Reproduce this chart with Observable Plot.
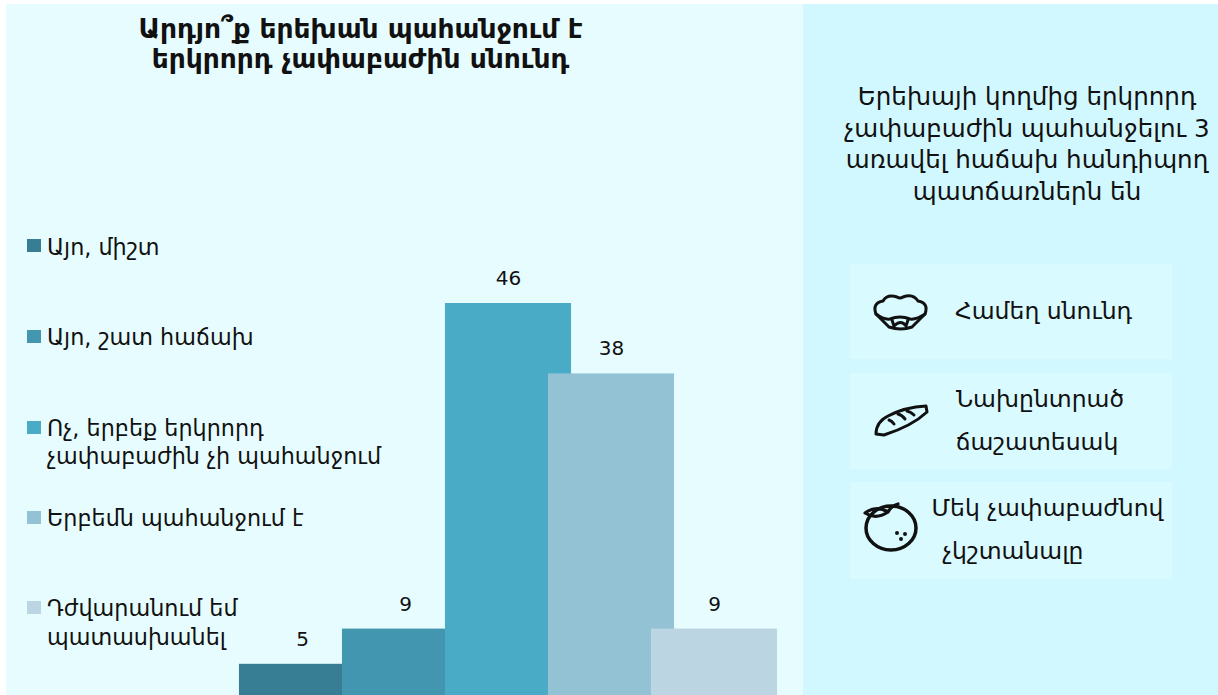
<!DOCTYPE html>
<html><head><meta charset="utf-8">
<script src="https://cdn.jsdelivr.net/npm/d3@7"></script>
<script src="https://cdn.jsdelivr.net/npm/@observablehq/plot@0.6"></script>
<style>
html,body{margin:0;padding:0;background:#fff;overflow:hidden}
#page{position:relative;width:1218px;height:695px;overflow:hidden;font-family:"DejaVu Sans",sans-serif;color:#111}
.panel{position:absolute}
.t{position:absolute;white-space:nowrap;line-height:1;transform:translateY(-50%)}
.c{transform:translate(-50%,-50%)}
#plot{position:absolute;left:0;top:0}
#plot svg{background:transparent;display:block}
</style></head><body>
<div id="page"></div>
<script>
const categories = ["Այո, միշտ","Այո, շատ հաճախ","Ոչ, երբեք երկրորդ չափաբաժին չի պահանջում","Երբեմն պահանջում է","Դժվարանում եմ պատասխանել"];
const values = [5,9,46,38,9];
const colors = ["#377e94","#4296af","#4aabc6","#92c2d4","#bbd5e2"];
const legendLines = [["Այո, միշտ"],["Այո, շատ հաճախ"],["Ոչ, երբեք երկրորդ","չափաբաժին չի պահանջում"],["Երբեմն պահանջում է"],["Դժվարանում եմ","պատասխանել"]];
const titleLines = ["Արդյո՞ք երեխան պահանջում է","երկրորդ չափաբաժին սնունդ"];
const sideLines = ["Երեխայի կողմից երկրորդ","չափաբաժին պահանջելու 3","առավել հաճախ հանդիպող","պատճառներն են"];
const reasons = [["Համեղ սնունդ"],["Նախընտրած","ճաշատեսակ"],["Մեկ չափաբաժնով","չկշտանալը"]];

const page = document.getElementById("page");
function box(x,y,w,h,bg){const d=document.createElement("div");d.className="panel";d.style.cssText=`left:${x}px;top:${y}px;width:${w}px;height:${h}px;background:${bg}`;page.appendChild(d);return d;}
function text(s,x,y,size,opts={}){const d=document.createElement("div");d.className="t"+(opts.center?" c":"");d.textContent=s;d.style.left=x+"px";d.style.top=y+"px";d.style.fontSize=size+"px";if(opts.bold)d.style.fontWeight="bold";page.appendChild(d);return d;}

box(6,4,797,691,"#e6fcff");
box(803,4,415,691,"#d2f8ff");
box(850,264,322,95,"#d9faff");
box(850,373,322,96,"#d9faff");
box(850,482,322,97,"#d9faff");

const data = categories.map((c,i)=>({i,c,v:values[i],color:colors[i]}));
const halfBar = 0.612;
const chart = Plot.plot({
  width:1218,height:695,margin:0,
  x:{type:"linear",domain:[0,4],range:[302,714],axis:null},
  y:{domain:[0,46],range:[707.8,303],axis:null},
  style:{background:"transparent"},
  marks:[
    Plot.rectY(data,{x1:d=>d.i-halfBar,x2:d=>d.i+halfBar,y1:0,y2:"v",fill:"color"}),
    Plot.text(data,{x:"i",y:"v",text:d=>String(d.v),dy:-25,fontSize:20,fill:"#111",fontFamily:"DejaVu Sans"})
  ]
});
const holder=document.createElement("div");holder.id="plot";holder.appendChild(chart);page.appendChild(holder);

titleLines.forEach((s,i)=>text(s,360.5,[29,59][i],26.5,{center:true,bold:true}));
sideLines.forEach((s,i)=>text(s,1027,[97,129,160,192][i],24.6,{center:true}));

const legendY=[245,336,427,517,607];
colors.forEach((c,i)=>{box(27,legendY[i]-6.5,14,13,c);});
const legendTextY=[[247],[337],[428,456],[518],[608,637]];
legendLines.forEach((ls,i)=>ls.forEach((s,j)=>text(s,47,legendTextY[i][j],22.3)));

const reasonPos=[[[1043.5,312]],[[1040,400],[1037,443]],[[1047.5,509],[1013,552]]];
reasons.forEach((ls,i)=>ls.forEach((s,j)=>text(s,reasonPos[i][j][0],reasonPos[i][j][1],23.5,{center:true})));

const ns="http://www.w3.org/2000/svg";
const icons=`<svg xmlns="${ns}" width="1218" height="695" style="position:absolute;left:0;top:0" fill="none" stroke="#111" stroke-width="3" stroke-linecap="round" stroke-linejoin="round">
<path d="M876 314 Q872 303 883 301 Q887 294 897 297 Q900 299 903 297 Q913 293 918 301 Q929 303 925 314 Q916 320 910 319 Q900 315 890 319 Q884 320 876 314 Z"/>
<path d="M876 314 L889 327 Q901 331 912 327 L925 314 M892 320 L894 326 M908 320 L906 326 M894 326 Q901 319 906 326"/>
<path d="M876 434 Q876 422 888 416 Q905 407 926 406 L927 412 Q912 426 884 435 Z"/>
<path d="M889 420 Q892 421 894 424 M898 414 Q902 415 905 419 M907 411 Q911 412 914 415"/>
<ellipse cx="891" cy="528" rx="25" ry="22" stroke-width="3.5"/>
<path d="M865 513 Q876 505 888 512 Q876 520 865 513 Z M888 512 Q891 506 898 504" stroke-width="3.2"/>
<circle cx="897" cy="533" r="1" stroke-width="2"/><circle cx="905" cy="534" r="1" stroke-width="2"/><circle cx="901" cy="539" r="1" stroke-width="2"/>
</svg>`;
const ic=document.createElement("div");ic.innerHTML=icons;page.appendChild(ic);
</script></body></html>
